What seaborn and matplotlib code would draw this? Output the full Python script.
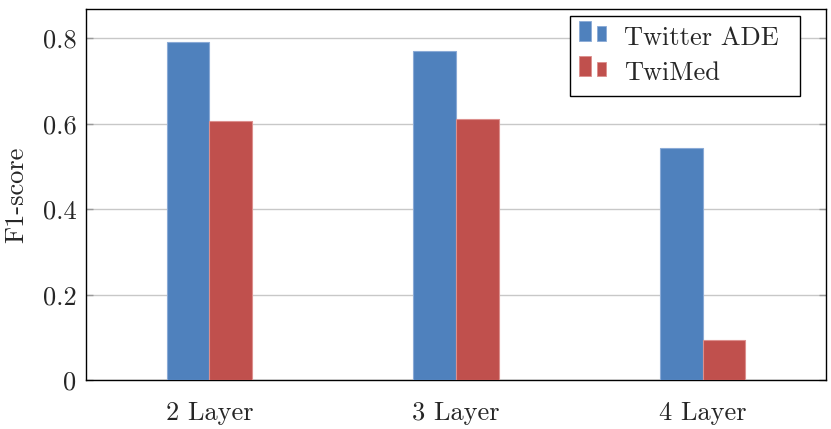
import matplotlib
matplotlib.use("Agg")
import matplotlib.pyplot as plt
import seaborn as sns
import pandas as pd
from matplotlib.patches import Rectangle
from matplotlib.legend_handler import HandlerBase

categories = ["2 Layer", "3 Layer", "4 Layer"]
series_names = ["Twitter ADE", "TwiMed"]
twitter_ade = [0.792, 0.770, 0.544]
twimed = [0.607, 0.611, 0.094]
y_ticks = [0, 0.2, 0.4, 0.6, 0.8]
y_tick_labels = ["0", "0.2", "0.4", "0.6", "0.8"]

colors = ["#4F81BD", "#C0504D"]
edge_colors = ["#8AAAD6", "#DC8F8D"]

df = pd.DataFrame({
    "Layer": categories * 2,
    "Dataset": [series_names[0]] * 3 + [series_names[1]] * 3,
    "F1": twitter_ade + twimed,
})

sns.set_style("white")
plt.rcParams["font.family"] = ["cmr10", "DejaVu Serif"]
plt.rcParams["mathtext.fontset"] = "cm"
plt.rcParams["axes.formatter.use_mathtext"] = True

FS = 19

fig = plt.figure(figsize=(8.31, 4.29), dpi=100)
ax = fig.add_axes([86 / 831, (429 - 380.3) / 429, 740 / 831, (380.3 - 9) / 429])

sns.barplot(data=df, x="Layer", y="F1", hue="Dataset", order=categories,
            hue_order=series_names, palette=colors, width=0.345,
            saturation=1, errorbar=None, ax=ax, legend=False, zorder=3)

for i, container in enumerate(ax.containers):
    for p in container:
        p.set_edgecolor(edge_colors[i])
        p.set_linewidth(0.8)

ax.set_xlim(-0.5, 2.5)
ax.set_ylim(0, 0.8685)
ax.set_yticks(y_ticks)
ax.set_yticklabels(y_tick_labels)
ax.set_xlabel("")
ax.set_ylabel("F1-score", fontsize=FS, labelpad=10)
ax.yaxis.grid(True, color="#c8c8c8", linewidth=1.0, zorder=0)
ax.set_axisbelow(True)
ax.tick_params(axis="y", direction="in", length=5, width=1, color="#999999",
               left=True, right=True, labelsize=FS, pad=7)
ax.tick_params(axis="x", length=0, labelsize=FS, pad=15)
for s in ax.spines.values():
    s.set_color("black")
    s.set_linewidth(1.0)
    s.set_visible(True)


class BarIconHandler(HandlerBase):
    def __init__(self, fc, ec, **kw):
        super().__init__(**kw)
        self.fc = fc
        self.ec = ec

    def create_artists(self, legend, orig_handle, xdescent, ydescent,
                       width, height, fontsize, trans):
        x0 = -xdescent - 1.0
        y0 = -ydescent + height * 0.23
        r1 = Rectangle((x0, y0), width * 0.4, height * 1.07,
                       facecolor=self.fc, edgecolor=self.ec, linewidth=0.6, transform=trans)
        r2 = Rectangle((x0 + width * 0.6, y0), width * 0.34, height * 0.78,
                       facecolor=self.fc, edgecolor=self.ec, linewidth=0.6, transform=trans)
        return [r1, r2]


h1 = Rectangle((0, 0), 1, 1)
h2 = Rectangle((0, 0), 1, 1)
leg = ax.legend([h1, h2], series_names, loc="upper left", mode="expand",
                bbox_to_anchor=(570 / 831, 1 - 15.7 / 429, 230 / 831, 0),
                bbox_transform=fig.transFigure,
                handler_map={h1: BarIconHandler(colors[0], edge_colors[0]),
                             h2: BarIconHandler(colors[1], edge_colors[1])},
                fontsize=FS, frameon=True, fancybox=False, framealpha=1,
                edgecolor="black", borderpad=0.4, labelspacing=0.44,
                handlelength=1.1, handletextpad=0.55, borderaxespad=0)
leg.get_frame().set_linewidth(1.0)
leg.set_zorder(5)

fig.savefig("out.png", dpi=100)
